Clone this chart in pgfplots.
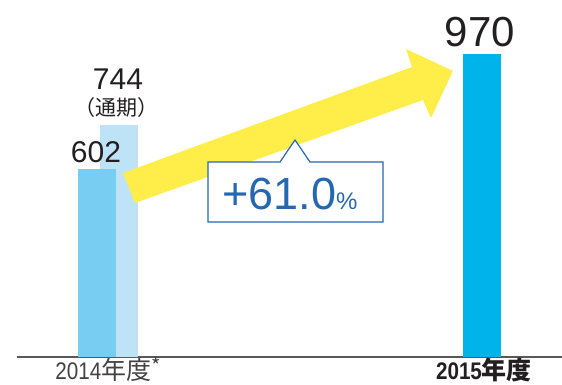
\documentclass[border=0pt]{standalone}
\usepackage{pgfplots}
\pgfplotsset{compat=1.18}
\usepackage{fontspec}
\setmainfont{Liberation Sans}
\newfontfamily\jp{Noto Sans CJK JP}
\definecolor{cA}{HTML}{78CDF3}
\definecolor{cB}{HTML}{BEE3F7}
\definecolor{cC}{HTML}{00B4EB}
\definecolor{yel}{HTML}{FFED4A}
\definecolor{cblue}{HTML}{2468B2}
\definecolor{tdark}{HTML}{231F20}
\definecolor{agray}{HTML}{595757}
\begin{document}
\begin{tikzpicture}[x=1pt,y=1pt]
\useasboundingbox (0,0) rectangle (562,385);
\begin{axis}[
  at={(17pt,28pt)}, anchor=south west,
  scale only axis, width=545pt, height=357pt,
  xmin=17, xmax=562, ymin=0, ymax=1143,
  axis x line*=bottom, axis y line=none,
  x axis line style={-, draw=agray, line width=1.2pt},
  xtick={108,484}, major tick length=0pt,
  xticklabels={{\fontsize{24}{24}\selectfont\color{tdark!85}\scalebox{0.86}[1]{2014}\jp\fontsize{25}{25}\selectfont 年度\raisebox{6pt}{\fontsize{20}{20}\selectfont *}},
               {\fontsize{24}{24}\selectfont\bfseries\color{tdark}\scalebox{0.86}[1]{2015}\jp\fontsize{25}{25}\selectfont\bfseries 年度}},
  xticklabel style={anchor=base, yshift=-23pt, inner sep=0pt},
  clip=false,
]
\addplot[ybar, bar shift=0pt, bar width=38, fill=cB, draw=none] coordinates {(119,744)};
\addplot[ybar, bar shift=0pt, bar width=38, fill=cA, draw=none] coordinates {(97,602)};
\addplot[ybar, bar shift=0pt, bar width=38, fill=cC, draw=none] coordinates {(482,970)};
\end{axis}
% arrow
\fill[yel] (123,212) -- (412,318) -- (406,336) -- (453,314) -- (431,267) -- (423,285) -- (135,182) -- cycle;
% callout
\draw[line width=1.2pt, cblue, fill=white, line join=miter] (208,163) -- (208,223) -- (280,223) -- (295,245) -- (310,223) -- (383,223) -- (383,163) -- cycle;
\node[anchor=base west, inner sep=0pt, text=cblue] at (222,175) {\fontsize{45}{45}\selectfont +61.0\fontsize{24}{24}\selectfont\%};
% value labels
\node[anchor=base, inner sep=0pt, text=tdark] at (118,295) {\fontsize{30}{30}\selectfont 744};
\node[anchor=center, inner sep=0pt, text=tdark] at (116,277.5) {\jp\fontsize{21}{21}\selectfont （通期）};
\node[anchor=base, inner sep=0pt, text=tdark] at (96,222) {\fontsize{30}{30}\selectfont 602};
\node[anchor=base, inner sep=0pt, text=tdark] at (480,338) {\fontsize{42}{42}\selectfont 970};
\end{tikzpicture}
\end{document}
